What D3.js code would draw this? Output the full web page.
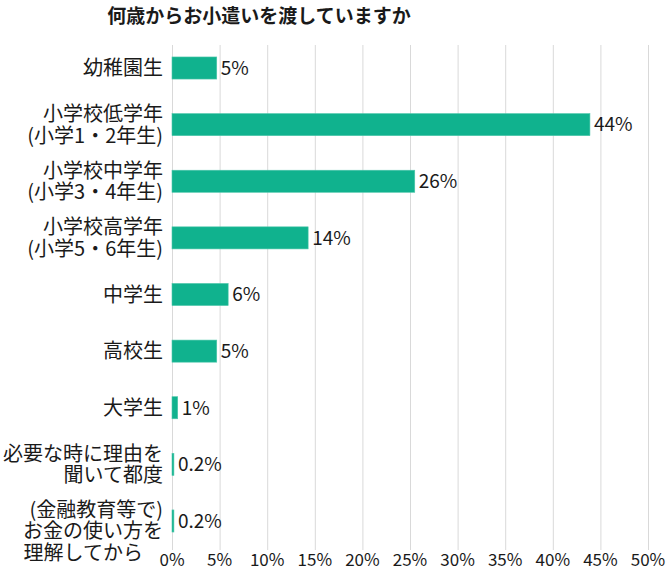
<!DOCTYPE html>
<html><head><meta charset="utf-8">
<script src="https://cdn.jsdelivr.net/npm/d3@7"></script>
<style>
body{margin:0;background:#fff;}
text{font-family:"Noto Sans CJK JP","Noto Sans",sans-serif;fill:#1a1a1a;}
</style></head><body>
<svg id="c" width="666" height="578"></svg>
<script>
const title = "何歳からお小遣いを渡していますか";
const categories = [
  ["幼稚園生"],
  ["小学校低学年","(小学1・2年生)"],
  ["小学校中学年","(小学3・4年生)"],
  ["小学校高学年","(小学5・6年生)"],
  ["中学生"],
  ["高校生"],
  ["大学生"],
  ["必要な時に理由を","聞いて都度"],
  ["(金融教育等で)","お金の使い方を","理解してから\u3000"]
];
const values = [4.7, 43.9, 25.5, 14.3, 5.9, 4.7, 0.6, 0.2, 0.2];
const valueLabels = ["5%","44%","26%","14%","6%","5%","1%","0.2%","0.2%"];
const ticks = [0,5,10,15,20,25,30,35,40,45,50];

const svg = d3.select("#c");
const x = d3.scaleLinear().domain([0,50]).range([172,648]);
const y = d3.scaleBand().domain(d3.range(categories.length)).range([39.7,549.3]).paddingInner(0.61).paddingOuter(0.305);

svg.append("text").attr("x",259).attr("y",23).attr("text-anchor","middle")
  .style("font-size","19px").style("font-weight","bold").text(title);

// gridlines
svg.append("g").selectAll("line").data(ticks).join("line")
  .attr("x1",d=>x(d)+0.5).attr("x2",d=>x(d)+0.5).attr("y1",45).attr("y2",550)
  .attr("stroke","#d9d9d9").attr("stroke-width",1);

// tick labels
svg.append("g").selectAll("text").data(ticks).join("text")
  .attr("x",d=>x(d)).attr("y",566).attr("text-anchor","middle")
  .style("font-size","17px").text(d=>d+"%");

// bars
svg.append("g").selectAll("rect").data(values).join("rect")
  .attr("x",x(0)).attr("y",(d,i)=>y(i)).attr("width",d=>x(d)-x(0)).attr("height",y.bandwidth())
  .attr("fill","#10b28e").attr("stroke","#4fc7ab").attr("stroke-width",0.6);

// value labels
svg.append("g").selectAll("text").data(values).join("text")
  .attr("x",d=>x(d)+4).attr("y",(d,i)=>y(i)+y.bandwidth()/2).attr("dy","0.36em")
  .style("font-size","19px").text((d,i)=>valueLabels[i]);

// category labels
const lh = 21.5;
const cg = svg.append("g").selectAll("text").data(categories).join("text")
  .attr("text-anchor","end").style("font-size","20px");
cg.each(function(lines,i){
  const n = lines.length;
  const cy = y(i)+y.bandwidth()/2 + (n>2 ? 10 : 0);
  d3.select(this).selectAll("tspan").data(lines).join("tspan")
    .attr("x",163).attr("y",(l,j)=>cy+(j-(n-1)/2)*lh).attr("dy","0.36em").text(l=>l);
});
</script></body></html>
